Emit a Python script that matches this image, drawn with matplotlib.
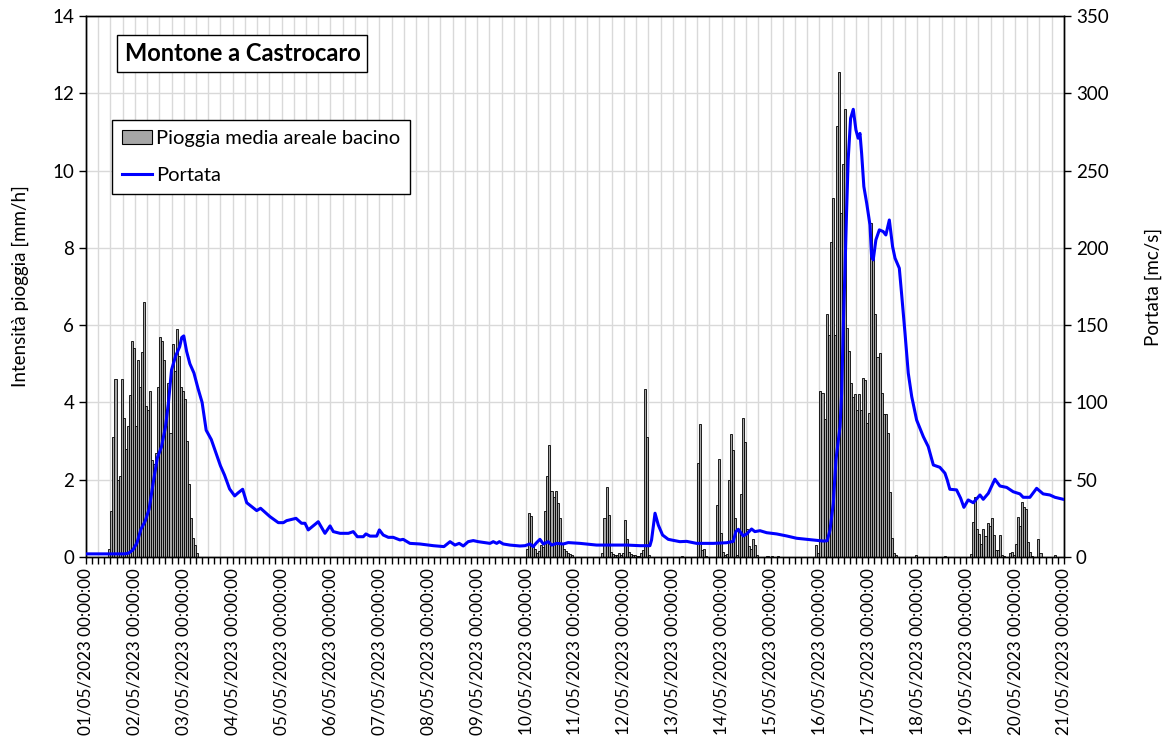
import numpy as np
import matplotlib.pyplot as plt
from matplotlib.patches import Patch
from matplotlib.lines import Line2D
from matplotlib.ticker import MultipleLocator

plt.rcParams['font.family'] = ['Lato', 'DejaVu Sans']

N_HOURS = 480

# hourly mean areal rain [mm/h], grouped by event (start hour from 01/05 00:00)
rain_start_1 = 11
rain_1 = [0.2, 1.2, 3.1, 4.6, 2.0, 2.1, 4.6, 3.6, 2.8, 3.4, 4.2, 5.6, 5.4, 3.4, 5.1,
          4.4, 5.3, 6.6, 3.9, 3.8, 4.3, 2.5, 2.4, 2.7, 4.4, 5.7, 5.6, 5.1, 3.4, 4.5,
          3.2, 5.5, 4.8, 5.9, 5.2, 4.4, 4.3, 4.1, 3.0, 1.9, 1.0, 0.5, 0.3, 0.1]
rain_start_2 = 216
rain_2 = [0.2, 1.15, 1.05, 0.3, 0.2, 0.1, 0.15, 0.3, 0.25, 1.2, 2.1, 2.9, 1.7, 1.55,
          1.7, 1.4, 1.0, 0.35, 0.2, 0.15, 0.1, 0.08, 0.04]
rain_start_3 = 253
rain_3 = [0.1, 1.0, 1.8, 1.09, 0.14, 0.08, 0.06, 0.06, 0.1, 0.06, 0.1, 0.96, 0.46,
          0.14, 0.08, 0.05, 0.05, 0.03, 0.03, 0.1, 0.18, 4.35, 3.1, 0.05]
rain_start_4 = 300
rain_4 = [2.42, 3.43, 0.18, 0.2, 0.02, 0, 0, 0, 0, 1.35, 2.53, 0.61, 0.14, 0.06, 0.08,
          2.0, 3.18, 2.78, 1.02, 0.05, 0.7, 1.62, 3.6, 2.98, 0.72, 0.28, 0.2, 0.46,
          0.31, 0.04]
rain_start_5 = 358
rain_5 = [0.3, 0.1, 4.3, 4.24, 3.56, 6.29, 5.75, 8.16, 9.28, 5.75, 11.16, 12.55, 8.9,
          10.17, 11.6, 5.92, 5.34, 4.5, 4.13, 4.21, 3.8, 4.22, 3.8, 4.62, 4.58, 3.46,
          3.72, 8.64, 7.86, 6.29, 5.17, 5.29, 4.25, 3.7, 3.7, 3.22, 1.67, 0.48, 0.11,
          0.05]
rain_start_6 = 434
rain_6 = [0.08, 0.91, 1.54, 0.72, 0.6, 0.34, 0.72, 0.53, 0.87, 0.79, 1.0, 0.57, 0.18,
          0.18, 0.57, 0.05, 0.02, 0, 0, 0.1, 0.14, 0.05, 0.34, 1.04, 0.8, 1.43, 1.29,
          1.23, 0.4, 0.14, 0.03, 0, 0, 0.46, 0.1, 0, 0, 0, 0, 0, 0, 0.05]
# isolated small values
rain_extra_hours = [292, 334, 336, 339, 407, 421]
rain_extra = [0.03, 0.03, 0.03, 0.03, 0.05, 0.03]

# discharge [mc/s]
flow_hours = [0, 19, 21, 23, 25, 27, 29, 31, 33, 35, 37, 39, 40.5, 42, 44, 46, 47, 48,
              49.4, 51, 53, 55, 57, 59, 61.5, 66, 68, 70.5, 73, 74.8, 76.9, 78.9, 83.8,
              85.7, 90.3, 94.4, 96.9, 98.5, 103.1, 105.8, 107.5, 109.1, 114, 117.3,
              119.8, 121.4, 124.7, 128.8, 131.2, 133.2, 136.1, 137.4, 139.4, 142.7,
              144, 145.9, 148.4, 150.8, 154.1, 155.7, 159, 163.9, 170.5, 175.7, 178.7,
              181.1, 183.2, 185.2, 187.6, 190.1, 192.5, 195.8, 198.3, 199.9, 201.6,
              202.9, 204.8, 208.1, 213, 215.5, 217.9, 219.5, 221.2, 222.8, 224.5,
              226.9, 228.6, 231, 234.3, 236.7, 242.5, 250.6, 258.8, 265.4, 271.9,
              276.8, 277.6, 279.3, 280.9, 283, 285.8, 291.5, 294.8, 299.7, 307.9,
              314.4, 317.7, 319, 320.2, 322.6, 324.3, 326.7, 328.3, 330.8, 334.1, 339,
              343.9, 348.8, 353.7, 357, 361.9, 363.8, 365.2, 366.8, 368.1, 369.1,
              370.1, 370.9, 371.7, 372.5, 373.3, 374.1, 375.3, 376.6, 377.9, 379,
              379.9, 380.7, 381.8, 383.2, 384.8, 385.6, 386.4, 387.7, 389.4, 391.3,
              392.6, 394.3, 395.9, 397.1, 399.2, 400.3, 402, 403.6, 405.3, 407.7, 411,
              413.4, 415.9, 419.1, 421.6, 422.7, 424, 427.3, 429.3, 430.9, 433, 435.5,
              438.8, 440.4, 442.9, 446.1, 448.6, 451.9, 455.1, 458.4, 460, 463.3,
              466.6, 469.8, 473.1, 475.6, 479.7]
flow_values = [2.0, 2.0, 2.5, 4.5, 9, 18, 23, 31, 48, 64, 71, 84, 100, 121, 130, 136,
               142, 143, 133, 125, 119, 109, 100, 82, 76, 59, 53, 44, 39.5, 41.6, 43.8,
               35.1, 30, 31.5, 26.1, 22.2, 22.2, 23.5, 25, 21.8, 21.8, 17.5, 22.8, 15.3,
               20.1, 16.4, 15.3, 15.3, 16.4, 13.1, 13.1, 14.9, 13.5, 13.5, 17.5, 14.2,
               12.7, 12.7, 11, 11.4, 8.8, 8.4, 7.3, 6.7, 9.9, 7.7, 8.8, 7.1, 9.9, 10.6,
               9.9, 9.3, 8.8, 9.9, 8.8, 9.9, 8.4, 7.7, 7.1, 7.3, 8.4, 6.7, 9.3, 11.4,
               8.4, 9.9, 7.7, 8.8, 8.4, 9.3, 8.8, 7.7, 7.7, 7.7, 7.3, 7.3, 11, 28.3,
               20.7, 14.2, 11.4, 9.9, 10.1, 8.8, 8.8, 9.2, 10.1, 16.4, 17.9, 13.6, 14.9,
               18.1, 16.4, 17, 15.7, 14.9, 13.6, 12.1, 11.4, 11, 10.3, 10.5, 17.5, 34.7,
               62.8, 73.5, 84.3, 105.9, 149, 183.5, 222.4, 256.9, 283.8, 289.6, 276.3,
               270.9, 274, 261.2, 239.6, 228.8, 214.8, 194.3, 192.2, 205.1, 211.6,
               210.5, 208.3, 218, 200.8, 193.3, 186.8, 170.6, 144.7, 118.9, 103.7,
               88.6, 77.8, 71.4, 59.5, 58, 54.2, 49.9, 43.8, 43.4, 38, 32.1, 36.9, 35.1,
               40.1, 37.3, 41.2, 50.3, 45.9, 45, 42.2, 40.8, 38.6, 38.6, 44.4, 40.8,
               40.1, 38.6, 37.3]

day_labels = ['%02d/05/2023 00:00:00' % d for d in range(1, 22)]

rain = np.zeros(N_HOURS)
for start, vals in [(rain_start_1, rain_1), (rain_start_2, rain_2), (rain_start_3, rain_3),
                    (rain_start_4, rain_4), (rain_start_5, rain_5), (rain_start_6, rain_6)]:
    rain[start:start + len(vals)] = vals
rain[rain_extra_hours] = rain_extra
hours = np.arange(N_HOURS)
mask = rain > 0

fig = plt.figure(figsize=(11.68, 7.38), dpi=100)
ax = fig.add_axes([0.0736, 0.2453, 0.8373, 0.7331])

ax.bar(hours[mask] + 0.5, rain[mask], width=1.0, color='#a6a6a6',
       edgecolor='black', linewidth=0.6, zorder=2)
ax.set_ylim(0, 14)
ax.set_yticks(range(0, 15, 2))
ax.xaxis.set_minor_locator(MultipleLocator(3))
ax.set_xlim(0, N_HOURS)
ticks = np.arange(0, N_HOURS + 1, 6)
ax.set_xticks(ticks)
ax.set_xticklabels([day_labels[t // 24] if t % 24 == 0 else '' for t in ticks],
                   rotation=90)
ax.grid(True, which='major', color='#d9d9d9', linewidth=1.0, zorder=0)
ax.set_axisbelow(True)
ax.tick_params(axis='x', which='both', length=5, width=1, direction='out',
               labelsize=12.3, pad=3)
ax.tick_params(axis='y', length=5, width=1, labelsize=13.5)
ax.set_ylabel('Intensità pioggia [mm/h]', fontsize=13.5, labelpad=17)

ax2 = ax.twinx()
ax2.plot(flow_hours, flow_values, color='#0000ff', linewidth=2.2, zorder=3)
ax2.set_ylim(0, 350)
ax2.set_yticks(range(0, 351, 50))
ax2.tick_params(axis='y', length=5, width=1, labelsize=13.5)
ax2.set_ylabel('Portata [mc/s]', fontsize=13.5, labelpad=26, rotation=90)
ax2.set_xlim(0, N_HOURS)

for a in (ax, ax2):
    for s in a.spines.values():
        s.set_color('black')
        s.set_linewidth(1.0)

ax2.text(0.16, 0.93, 'Montone a Castrocaro', transform=ax2.transAxes,
         fontsize=17, fontweight='bold', ha='center', va='center',
         bbox=dict(boxstyle='square,pad=0.3', facecolor='white',
                   edgecolor='black', linewidth=1.0))

handles = [Patch(facecolor='#a6a6a6', edgecolor='black', linewidth=0.8),
           Line2D([0], [0], color='#0000ff', linewidth=2.2)]
leg = ax2.legend(handles, ['Pioggia media areale bacino', 'Portata'],
                 loc='upper left', bbox_to_anchor=(0.0266, 0.808),
                 fontsize=14.5, frameon=True, fancybox=False, framealpha=1,
                 edgecolor='black', handlelength=1.5, handletextpad=0.2,
                 labelspacing=1.0, borderpad=0.5, borderaxespad=0)
leg.get_frame().set_linewidth(1.0)

fig.savefig('out.png', dpi=100)
